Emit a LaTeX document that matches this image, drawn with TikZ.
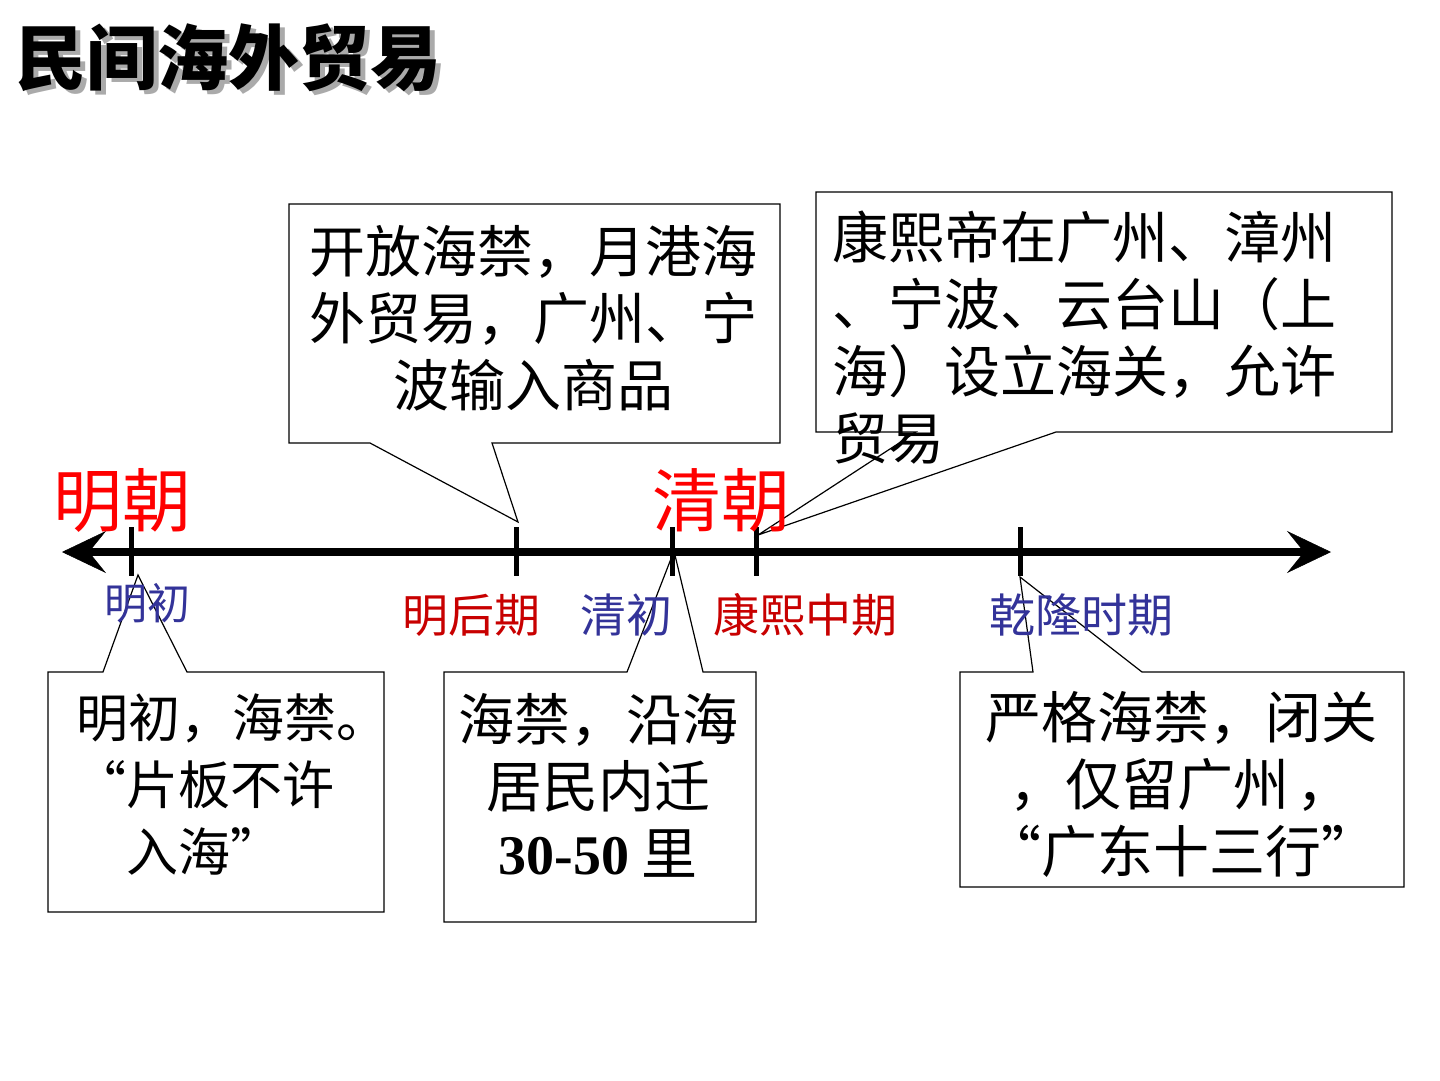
\documentclass[tikz,border=0pt]{standalone}
\usepackage{fontspec}
\setmainfont{Noto Sans CJK SC}
\newfontfamily\numfont{Liberation Serif}
\usetikzlibrary{arrows.meta}
\definecolor{dynred}{RGB}{255,0,0}
\definecolor{labred}{RGB}{200,0,0}
\definecolor{labblue}{RGB}{51,51,153}
\definecolor{shadowgray}{RGB}{170,170,170}
\begin{document}
\begin{tikzpicture}[x=1pt,y=-1pt,
  callout/.style={draw=black, line width=1.2pt, fill=white, line join=miter},
  boxtext/.style={inner sep=0pt, align=center, font=\fontsize{56}{67}\selectfont},
  dynasty/.style={inner sep=0pt, text=dynred, font=\fontsize{69}{80}\selectfont},
  period/.style={inner sep=0pt, font=\fontsize{46}{55}\selectfont},
  tickmark/.style={line width=5pt},
  axisline/.style={line width=8.5pt, {Stealth[length=44pt,width=42pt,inset=17pt,line width=0.5pt]}-{Stealth[length=44pt,width=42pt,inset=17pt,line width=0.5pt]}}
]
\useasboundingbox (0,0) rectangle (1440,1080);
\fill[white] (0,0) rectangle (1440,1080);

% title with shadow
\node[inner sep=0pt, text=shadowgray, font=\fontsize{71}{80}\selectfont\bfseries] (titleshadow) at (233,62) {民间海外贸易};
\node[inner sep=0pt, text=black, font=\fontsize{71}{80}\selectfont\bfseries] (title) at (229,58) {民间海外贸易};

% callout tips
\coordinate (pB) at (518,522);
\coordinate (pD) at (758,535);
\coordinate (pA) at (138,575);
\coordinate (pC) at (674,551);
\coordinate (pE) at (1020,577);

% callout shapes
\draw[callout] (289,204) -- (780,204) -- (780,443) -- (492,443) -- (pB) -- (370,443) -- (289,443) -- cycle;
\draw[callout] (816,192) -- (1392,192) -- (1392,432) -- (1056,432) -- (pD) -- (916,432) -- (816,432) -- cycle;
\draw[callout] (48,672) -- (103,672) -- (pA) -- (187,672) -- (384,672) -- (384,912) -- (48,912) -- cycle;
\draw[callout] (444,672) -- (627,672) -- (pC) -- (703,672) -- (756,672) -- (756,922) -- (444,922) -- cycle;
\draw[callout] (960,672) -- (1033,672) -- (pE) -- (1142,672) -- (1404,672) -- (1404,887) -- (960,887) -- cycle;

% axis
\coordinate (axL) at (62,552);
\coordinate (axR) at (1331,552);
\draw[axisline] (axL) -- (axR);
\foreach \nm/\xx in {tA/131, tB/516, tC/672, tD/756, tE/1020}{
  \coordinate (\nm) at (\xx,552);
  \draw[tickmark] (\xx,527) -- (\xx,576);
}

% dynasty labels
\node[dynasty] (ming) at (122,500) {明朝};
\node[dynasty] (qing) at (721,500) {清朝};

% period labels
\node[period, text=labblue, font=\fontsize{43}{50}\selectfont] (mingchu) at (147,603) {明初};
\node[period, text=labred] (minghou) at (471,615) {明后期};
\node[period, text=labblue] (qingchu) at (626,615) {清初};
\node[period, text=labred] (kangxi) at (805,615) {康熙中期};
\node[period, text=labblue] (qianlong) at (1081,615) {乾隆时期};

% box texts
\node[boxtext] (txtB) at (533,318) {开放海禁，月港海\\外贸易，广州、宁\\波输入商品};
\node[boxtext, align=left, anchor=west] (txtD) at (832,337.5) {康熙帝在广州、漳州\\、宁波、云台山（上\\海）设立海关，允许\\贸易};
\node[boxtext, font=\fontsize{52}{67}\selectfont] (txtA) at (232,785) {明初，海禁。\\\hspace*{-56pt}“片板不许\\入海”\hspace*{56pt}};
\node[boxtext] (txtC) at (598,785) {海禁，沿海\\居民内迁\\{\numfont\bfseries 30-50} 里};
\node[boxtext] (txtE) at (1181,784) {严格海禁，闭关\\，仅留广州\hspace*{8pt}，\\“广东十三行”};
\end{tikzpicture}
\end{document}
